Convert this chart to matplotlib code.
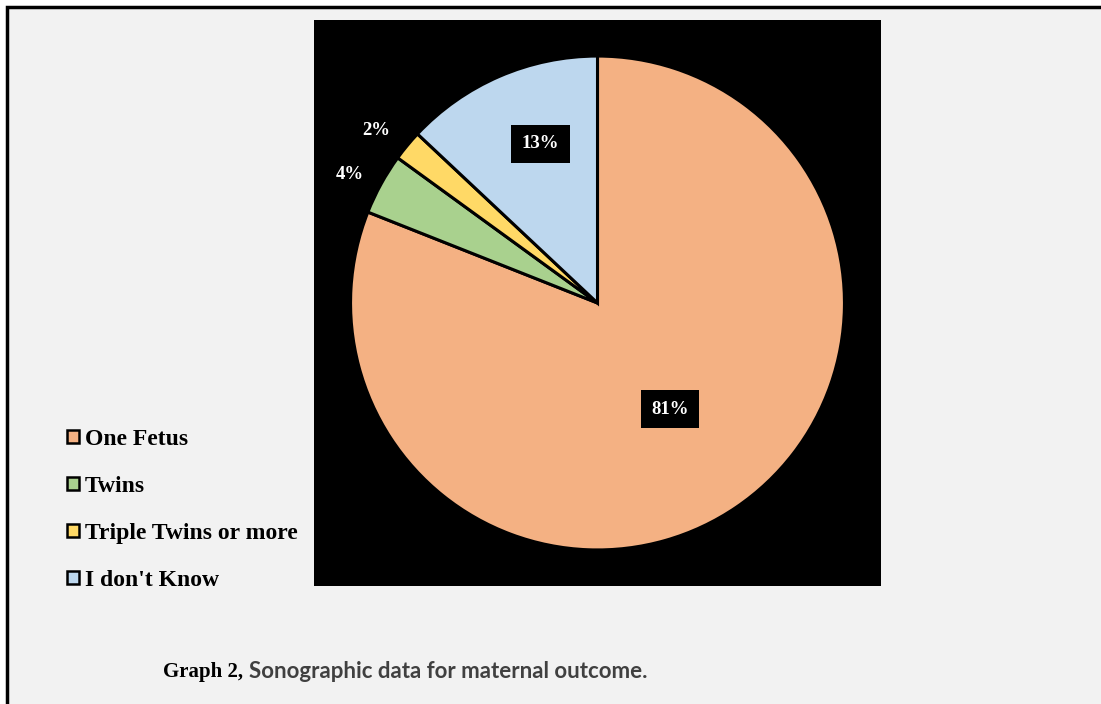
import numpy as np
import matplotlib.pyplot as plt
from matplotlib.patches import Patch, Rectangle

categorias = ["One Fetus", "Twins", "Triple Twins or more", "I don't Know"]
porcentajes = [81, 4, 2, 13]
colores = ["#F4B183", "#A9D18E", "#FFD966", "#BDD7EE"]

W, H = 1101, 704
fig = plt.figure(figsize=(W / 100, H / 100), dpi=100)
fig.patch.set_facecolor("white")

# marco gris con borde negro (detrás de los ejes)
fig.add_artist(Rectangle((7 / W, -0.1), 1.2, 1 - 7 / H + 0.1, transform=fig.transFigure,
                         facecolor="#F2F2F2", edgecolor="black", linewidth=2.5, zorder=-5))

ax = fig.add_axes([314 / W, (H - 586) / H, 567 / W, 566 / H])
ax.set_facecolor("black")

wedges, _ = ax.pie(porcentajes, colors=colores, startangle=90, counterclock=False,
                   radius=1, frame=True,
                   wedgeprops=dict(edgecolor="black", linewidth=2.2))
ax.set_xlim(-1.148, 1.148)
ax.set_ylim(-1.146, 1.146)
ax.set_aspect("auto")
ax.set_xticks([])
ax.set_yticks([])
for s in ax.spines.values():
    s.set_visible(False)

# posición de cada etiqueta: distancia radial, giro respecto al centro del sector, caja
dist_etiqueta = [0.52, 1.135, 1.14, 0.685]
giro_etiqueta = [0.0, 1.0, 1.4, -3.7]
con_caja = [True, False, False, True]
for w, p, r, d, caja in zip(wedges, porcentajes, dist_etiqueta, giro_etiqueta, con_caja):
    ang = np.deg2rad((w.theta1 + w.theta2) / 2 + d)
    kw = {"va": "center_baseline"}
    if caja:
        kw = {"va": "center",
              "bbox": dict(boxstyle="square,pad=0.55", facecolor="black", edgecolor="none")}
    ax.text(r * np.cos(ang), r * np.sin(ang), f"{p}%", ha="center",
            color="white", fontsize=13.5, fontweight="bold", family="Liberation Serif", **kw)

handles = [Patch(facecolor=c, edgecolor="black", linewidth=1.8) for c in colores]
fig.legend(handles, categorias, loc="upper left", bbox_to_anchor=(67 / W, 1 - 429 / H),
           frameon=False, prop=dict(family="Liberation Serif", weight="bold", size=17),
           handlelength=0.5, handleheight=0.5, handletextpad=0.25, labelspacing=1.1,
           borderaxespad=0, borderpad=0)

fig.text(163 / W, 1 - 672 / H, "Graph 2,", family="Liberation Serif", fontweight="bold",
         fontsize=15, va="center", color="black")
fig.text(249 / W, 1 - 672 / H, "Sonographic data for maternal outcome.", family="Lato",
         fontweight="bold", fontsize=16, va="center", color="#404040")

fig.savefig("out.png", dpi=100, facecolor=fig.get_facecolor())
